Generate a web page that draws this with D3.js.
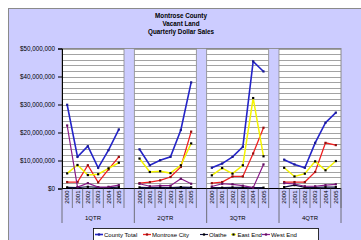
<!DOCTYPE html>
<html lang="en">
<head>
<meta charset="UTF-8">
<script src="https://d3js.org/d3.v7.min.js"></script>
<title>Montrose County Vacant Land</title>
<style>
  body { margin: 0; background: #fff; }
  text { font-family: "Liberation Sans", Arial, sans-serif; }
</style>
</head>
<body>
<svg id="chart" width="361" height="240"></svg>
<script>
// data (millions of dollars)
const quarters = ["1QTR", "2QTR", "3QTR", "4QTR"];
const years = ["2000", "2001", "2002", "2003", "2004", "2005"];
const seriesNames = ["County Total", "Montrose City", "Olathe", "East End", "West End"];

// each array: 4 quarters x 6 years
const countyTotal = [
  [29.9, 11.3, 15.1, 7.4, 13.7, 21.1],
  [14.0, 8.3, 10.1, 11.3, 20.9, 37.9],
  [7.4, 8.9, 11.3, 14.9, 45.4, 41.8],
  [10.3, 8.6, 7.4, 16.3, 23.5, 27.1]
];
const montroseCity = [
  [2.3, 2.3, 8.3, 2.2, 6.8, 11.3],
  [1.9, 2.3, 2.9, 4.1, 7.7, 20.3],
  [1.9, 2.3, 4.3, 4.3, 12.5, 21.7],
  [2.3, 2.3, 2.3, 5.9, 16.3, 15.5]
];
const olathe = [
  [0.4, 0.3, 0.6, 0.4, 0.3, 0.5],
  [0.4, 0.3, 0.4, 0.3, 0.5, 0.4],
  [0.3, 0.3, 0.4, 0.4, 0.3, 0.3],
  [0.5, 1.2, 0.4, 0.4, 0.5, 0.5]
];
const eastEnd = [
  [5.4, 8.4, 4.8, 5.1, 7.2, 9.2],
  [10.7, 5.9, 6.2, 5.5, 8.3, 16.1],
  [4.7, 7.3, 5.3, 8.3, 32.3, 11.5],
  [7.4, 4.3, 5.3, 9.7, 6.5, 9.8]
];
const westEnd = [
  [22.5, 0.5, 1.9, 0.5, 0.6, 1.2],
  [1.7, 0.8, 1.0, 1.0, 3.5, 1.7],
  [0.7, 1.7, 1.5, 1.0, 0.3, 8.6],
  [1.9, 1.6, 0.8, 0.8, 1.2, 1.5]
];
const yTicks = [0, 10, 20, 30, 40, 50];

const seriesData = [countyTotal, montroseCity, olathe, eastEnd, westEnd];
const lineColors = ["#2424c8", "#f02020", "#101040", "#f4f400", "#8a1a8a"];
const markColors = ["#1a1a90", "#901010", "#000000", "#000000", "#601060"];
const lineWidths = [1.6, 1.3, 1.1, 1.5, 1.2];

const svg = d3.select("#chart");

// background
svg.append("rect")
  .attr("x", 8.5).attr("y", 8.5)
  .attr("width", 360).attr("height", 240)
  .attr("fill", "#ccccff")
  .attr("stroke", "#8a8a8a");

// title
["Montrose County", "Vacant Land", "Quarterly Dollar Sales"].forEach((t, i) => {
  svg.append("text")
    .attr("x", 181).attr("y", 18 + i * 8)
    .attr("text-anchor", "middle")
    .attr("font-size", "6.3px")
    .attr("font-weight", "bold")
    .text(t);
});

const plotLeft = 62, plotRight = 341, plotTop = 48.5, plotBottom = 188.5;

const y = d3.scaleLinear().domain([0, 50]).range([plotBottom, plotTop]);
const xq = d3.scaleBand().domain(quarters).range([plotLeft, plotRight])
  .paddingInner(1 / 7).paddingOuter(0);
const xy = d3.scaleBand().domain(years).range([0, xq.bandwidth()]);

// plot area
svg.append("rect")
  .attr("x", plotLeft).attr("y", plotTop)
  .attr("width", plotRight - plotLeft).attr("height", plotBottom - plotTop)
  .attr("fill", "#ffffff")
  .attr("stroke", "#8a8a8a");

// gridlines every 2M
const grid = d3.range(2, 50.1, 2);
quarters.forEach(q => {
  svg.append("g").selectAll("line")
    .data(grid)
    .join("line")
    .attr("x1", xq(q)).attr("x2", xq(q) + xq.bandwidth())
    .attr("y1", d => Math.round(y(d)) + 0.5)
    .attr("y2", d => Math.round(y(d)) + 0.5)
    .attr("stroke", "#8c8c8c")
    .attr("stroke-width", 0.8);
});

// gaps between quarters
quarters.slice(0, 3).forEach(q => {
  const gx = xq(q) + xq.bandwidth();
  svg.append("rect")
    .attr("x", gx).attr("y", plotTop)
    .attr("width", xq.step() - xq.bandwidth()).attr("height", plotBottom - plotTop)
    .attr("fill", "#ccccff")
    .attr("stroke", "#8a8a8a")
    .attr("stroke-width", 0.8);
});

// y axis
const yAxis = d3.axisLeft(y)
  .tickValues(yTicks)
  .tickSize(4)
  .tickPadding(3)
  .tickFormat(d => d === 0 ? "$0" : "$" + d3.format(",")(d * 1000000));
svg.append("g")
  .attr("transform", `translate(${plotLeft},0)`)
  .call(yAxis)
  .call(g => g.select(".domain").attr("stroke", "#000"))
  .call(g => g.selectAll("text").attr("font-size", "6.3px").attr("fill", "#000"));

// x axis line
svg.append("line")
  .attr("x1", plotLeft).attr("x2", plotRight)
  .attr("y1", plotBottom).attr("y2", plotBottom)
  .attr("stroke", "#000");

// category lines and labels
const yearSlots = [];
quarters.forEach(q => years.forEach(yr => yearSlots.push({ q, yr })));

svg.append("g").selectAll("line")
  .data(yearSlots)
  .join("line")
  .attr("x1", d => xq(d.q) + xy(d.yr) + xy.bandwidth())
  .attr("x2", d => xq(d.q) + xy(d.yr) + xy.bandwidth())
  .attr("y1", plotBottom).attr("y2", 208)
  .attr("stroke", "#555")
  .attr("stroke-width", 0.7);

svg.append("g").selectAll("text")
  .data(yearSlots)
  .join("text")
  .attr("transform", d => `translate(${xq(d.q) + xy(d.yr) + xy.bandwidth() / 2 + 2.2},${plotBottom + 2}) rotate(-90)`)
  .attr("text-anchor", "end")
  .attr("font-size", "6px")
  .text(d => d.yr);

const sepX = quarters.map(q => xq(q)).concat([plotRight]);
svg.append("g").selectAll("line")
  .data(sepX)
  .join("line")
  .attr("x1", d => d).attr("x2", d => d)
  .attr("y1", plotBottom).attr("y2", 223)
  .attr("stroke", "#555")
  .attr("stroke-width", 0.8);

svg.append("g").selectAll("text")
  .data(quarters)
  .join("text")
  .attr("x", d => xq(d) + xq.bandwidth() / 2)
  .attr("y", 220)
  .attr("text-anchor", "middle")
  .attr("font-size", "6px")
  .text(d => d);

// series
const pointX = (qi, yi) => xq(quarters[qi]) + xy(years[yi]) + xy.bandwidth() / 2;
const line = d3.line().x(d => d.x).y(d => y(d.v));

seriesData.forEach((s, si) => {
  s.forEach((vals, qi) => {
    const pts = vals.map((v, yi) => ({ x: pointX(qi, yi), v }));
    svg.append("path")
      .datum(pts)
      .attr("d", line)
      .attr("fill", "none")
      .attr("stroke", lineColors[si])
      .attr("stroke-width", lineWidths[si]);
    svg.append("g").selectAll("rect")
      .data(pts)
      .join("rect")
      .attr("x", d => d.x - 1.1).attr("y", d => y(d.v) - 1.1)
      .attr("width", 2.2).attr("height", 2.2)
      .attr("fill", markColors[si]);
  });
});

// legend
const legend = svg.append("g");
legend.append("rect")
  .attr("x", 93.5).attr("y", 228.5)
  .attr("width", 225).attr("height", 14)
  .attr("fill", "#ffffff")
  .attr("stroke", "#000")
  .attr("stroke-width", 0.8);

const legendX = [95, 143, 200, 231, 262];
seriesNames.forEach((name, i) => {
  const lx = legendX[i];
  legend.append("line")
    .attr("x1", lx).attr("x2", lx + (i === 3 ? 5 : 8))
    .attr("y1", 234.5).attr("y2", 234.5)
    .attr("stroke", lineColors[i])
    .attr("stroke-width", lineWidths[i]);
  legend.append("rect")
    .attr("x", lx + (i === 3 ? 2.5 : 4) - 1.1).attr("y", 233.4)
    .attr("width", 2.2).attr("height", 2.2)
    .attr("fill", markColors[i]);
  legend.append("text")
    .attr("x", lx + (i === 3 ? 6.5 : 9))
    .attr("y", 236.7)
    .attr("font-size", "6px")
    .text(name);
});
</script>
</body>
</html>
